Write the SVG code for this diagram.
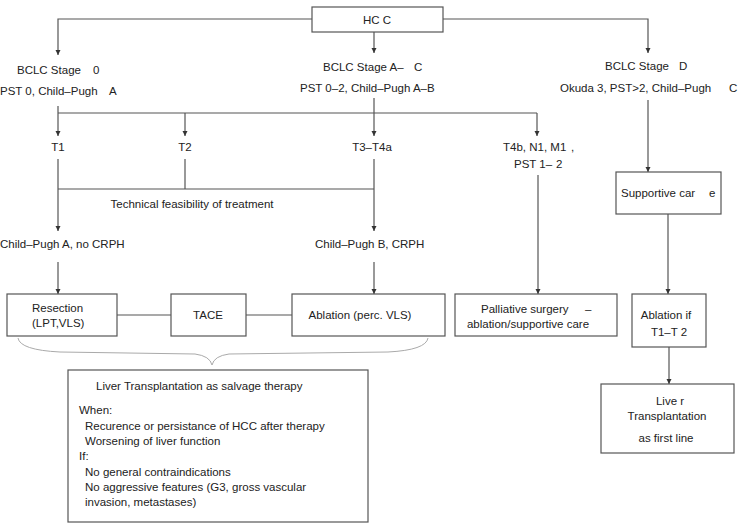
<svg xmlns="http://www.w3.org/2000/svg" width="742" height="527" viewBox="0 0 742 527">
<defs>
<marker id="ah" markerWidth="6" markerHeight="6" refX="5" refY="3" orient="auto" markerUnits="userSpaceOnUse">
<path d="M0,0.5 L5,3 L0,5.5 Z" fill="#333"/>
</marker>
<style>
text{font-family:"Liberation Sans",Arial,sans-serif;font-size:11.5px;fill:#222}
.m{text-anchor:middle}
.box{fill:#fff;stroke:#555;stroke-width:1.2}
.ln{fill:none;stroke:#555;stroke-width:1.2}
.ar{fill:none;stroke:#555;stroke-width:1.2;marker-end:url(#ah)}
.br{fill:none;stroke:#aaa;stroke-width:1}
</style>
</defs>
<rect width="742" height="527" fill="#fff"/>
<g id="connectors">
<polyline class="ar" points="312,19 58,19 58,55"/>
<line class="ar" x1="374" y1="32" x2="374" y2="53"/>
<polyline class="ar" points="443,19 648,19 648,53"/>
<line class="ln" x1="58" y1="106" x2="58" y2="113"/>
<line class="ln" x1="374" y1="98" x2="374" y2="113"/>
<line class="ln" x1="58" y1="113" x2="537" y2="113"/>
<line class="ar" x1="58" y1="113" x2="58" y2="136"/>
<line class="ar" x1="185" y1="113" x2="185" y2="136"/>
<line class="ar" x1="374" y1="113" x2="374" y2="136"/>
<line class="ar" x1="537" y1="113" x2="537" y2="136"/>
<line class="ar" x1="58" y1="159" x2="58" y2="231"/>
<line class="ln" x1="185" y1="159" x2="185" y2="189"/>
<line class="ar" x1="374" y1="159" x2="374" y2="231"/>
<line class="ln" x1="58" y1="189" x2="374" y2="189"/>
<line class="ar" x1="58" y1="262" x2="58" y2="294"/>
<line class="ar" x1="374" y1="262" x2="374" y2="294"/>
<line class="ar" x1="538" y1="175" x2="538" y2="294"/>
<line class="ar" x1="648" y1="100" x2="648" y2="172"/>
<line class="ar" x1="668" y1="214" x2="668" y2="294"/>
<line class="ar" x1="669" y1="347" x2="669" y2="384"/>
<line class="ln" x1="117" y1="315" x2="171" y2="315"/>
<line class="ln" x1="246" y1="315" x2="292" y2="315"/>
<path class="br" d="M18,338 Q20,350 60,352 L195,354 Q210,356 212,365 Q214,356 229,354 L388,352 Q426,350 428,338"/>
</g>
<g id="hcc">
<rect class="box" x="312" y="7" width="131" height="25"/>
<text class="m" x="377" y="24">HC C</text>
</g>
<g id="stage0">
<text x="17" y="74">BCLC Stage<tspan x="93">0</tspan></text>
<text x="0" y="95">PST 0, Child–Pugh<tspan x="109">A</tspan></text>
</g>
<g id="stageAC">
<text x="323" y="71">BCLC Stage A–<tspan x="414">C</tspan></text>
<text x="300" y="92">PST 0–2, Child–Pugh A–B</text>
</g>
<g id="stageD">
<text x="605" y="70">BCLC Stage<tspan x="679">D</tspan></text>
<text x="560" y="92">Okuda 3, PST&gt;2, Child–Pugh<tspan x="729">C</tspan></text>
</g>
<g id="t1"><text class="m" x="58" y="151">T1</text></g>
<g id="t2"><text class="m" x="185" y="151">T2</text></g>
<g id="t3"><text class="m" x="372" y="151">T3–T4a</text></g>
<g id="t4b">
<text x="503" y="151">T4b, N1, M1<tspan x="571">,</tspan></text>
<text x="514" y="168">PST 1–<tspan x="556">2</tspan></text>
</g>
<g id="feasibility"><text class="m" x="192" y="208">Technical feasibility of treatment</text></g>
<g id="cpA"><text x="0" y="248">Child–Pugh A, no CRPH</text></g>
<g id="cpB"><text x="315" y="248">Child–Pugh B, CRPH</text></g>
<g id="supportive">
<rect class="box" x="616" y="172" width="105" height="42"/>
<text x="621" y="197">Supportive car<tspan x="709">e</tspan></text>
</g>
<g id="resection">
<rect class="box" x="7" y="294" width="110" height="42"/>
<text x="32" y="312">Resection</text>
<text x="32" y="327">(LPT,VLS)</text>
</g>
<g id="tace">
<rect class="box" x="171" y="294" width="75" height="42"/>
<text class="m" x="208" y="319">TACE</text>
</g>
<g id="ablation">
<rect class="box" x="292" y="294" width="153" height="42"/>
<text class="m" x="360" y="319">Ablation (perc. VLS)</text>
</g>
<g id="palliative">
<rect class="box" x="455" y="294" width="162" height="42"/>
<text x="481" y="313">Palliative surgery<tspan x="585">–</tspan></text>
<text class="m" x="528" y="328">ablation/supportive care</text>
</g>
<g id="ablationif">
<rect class="box" x="632" y="294" width="74" height="53"/>
<text class="m" x="666" y="319">Ablation if</text>
<text class="m" x="669" y="336">T1–T 2</text>
</g>
<g id="livertx">
<rect class="box" x="601" y="384" width="133" height="69"/>
<text class="m" x="670" y="405">Live r</text>
<text class="m" x="667" y="420">Transplantation</text>
<text class="m" x="666" y="442">as first line</text>
</g>
<g id="salvage">
<rect class="box" x="68" y="370" width="300" height="152"/>
<text x="96" y="390">Liver Transplantation as salvage therapy</text>
<text x="79" y="414">When:</text>
<text x="85" y="430">Recurence or persistance of HCC after therapy</text>
<text x="85" y="445">Worsening of liver function</text>
<text x="79" y="460">If:</text>
<text x="85" y="476">No general contraindications</text>
<text x="85" y="491">No aggressive features (G3, gross vascular</text>
<text x="85" y="506">invasion, metastases)</text>
</g>
</svg>
